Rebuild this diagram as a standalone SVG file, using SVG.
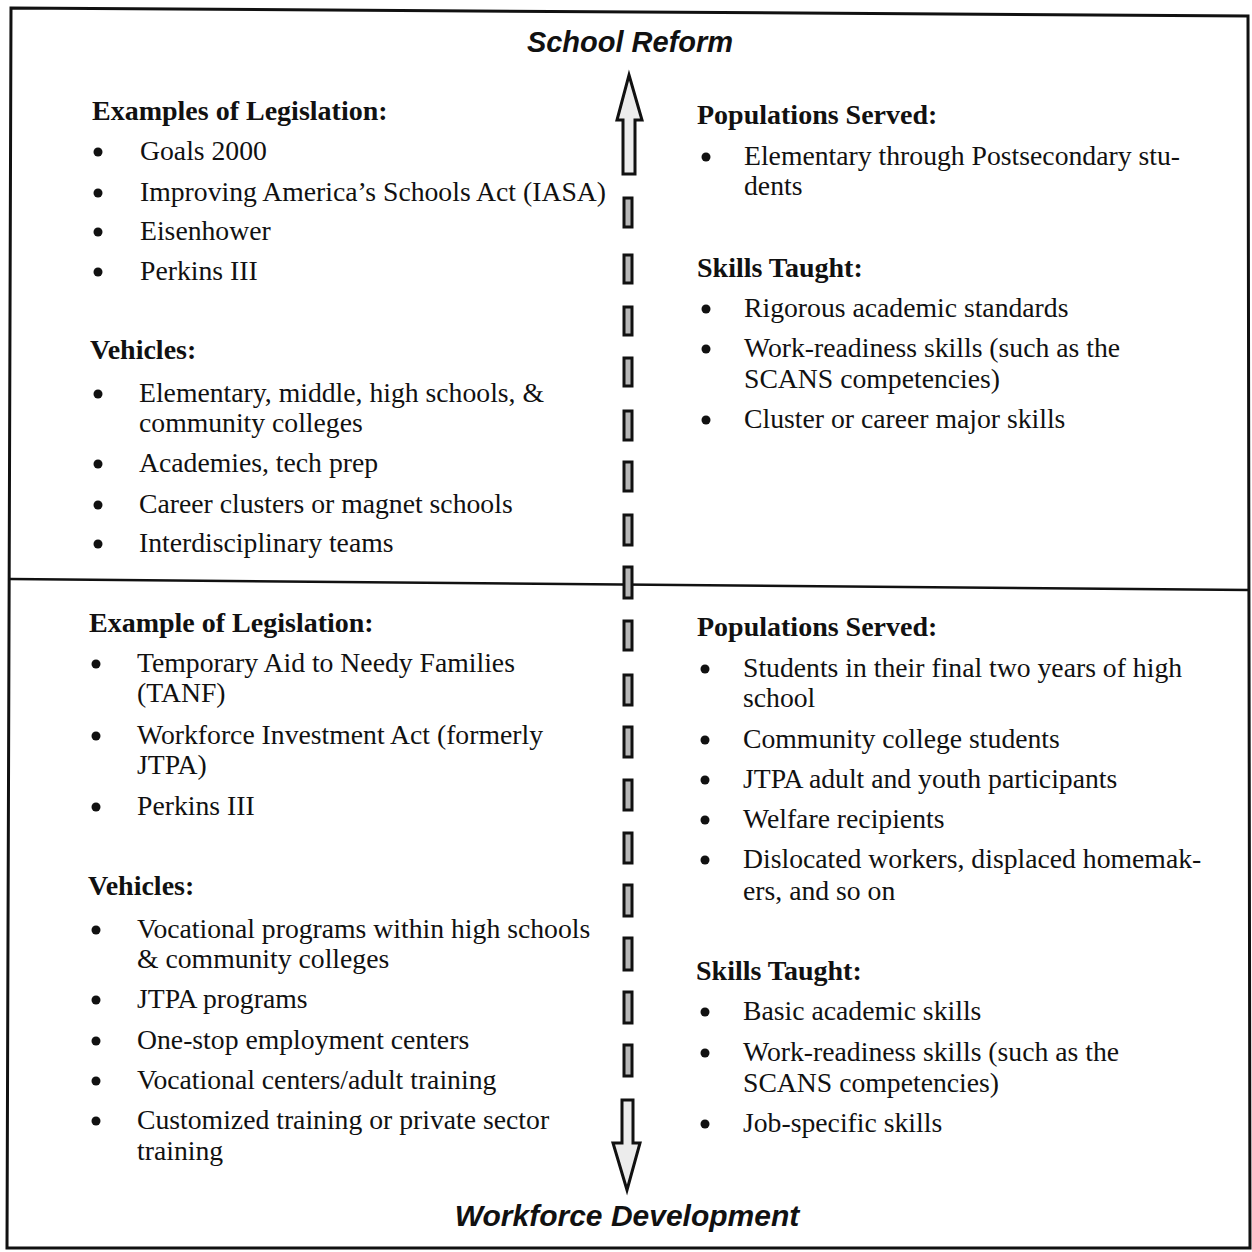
<svg xmlns="http://www.w3.org/2000/svg" width="1252" height="1252" viewBox="0 0 1252 1252">
<style>
.t{font-family:"Liberation Serif","Times New Roman",serif;font-size:27.7px;fill:#111}
.h{font-family:"Liberation Serif","Times New Roman",serif;font-size:28px;font-weight:bold;fill:#111}
.ti{font-family:"Liberation Sans",Arial,sans-serif;font-size:29px;font-weight:bold;font-style:italic;fill:#111}
.b{fill:#111}
.dash{fill:#b8b8b8;stroke:#111;stroke-width:3}
.head{fill:#ececec;stroke:#111;stroke-width:3;stroke-linejoin:miter}
.frame{fill:none;stroke:#111;stroke-width:3}
</style>
<rect x="0" y="0" width="1252" height="1252" fill="#fff"/>
<polygon class="frame" points="11,8 1248,16 1250,1248 7,1248"/>
<line x1="10" y1="579" x2="1250" y2="590" stroke="#111" stroke-width="2.5"/>

<g id="title-top"><text class="ti" x="630" y="52" text-anchor="middle">School Reform</text></g>
<g id="title-bottom"><text class="ti" x="627" y="1226" text-anchor="middle" style="font-size:30px">Workforce Development</text></g>

<g id="connectors">
<polygon class="head" points="629,75 642,120 635,120 635,174 623,174 623,120 617,120"/>
<rect class="dash" x="624" y="198" width="8" height="29"/>
<rect class="dash" x="624" y="255" width="8" height="28"/>
<rect class="dash" x="624" y="307" width="8" height="28"/>
<rect class="dash" x="624" y="358" width="8" height="28"/>
<rect class="dash" x="624" y="411" width="8" height="29"/>
<rect class="dash" x="624" y="462" width="8" height="29"/>
<rect class="dash" x="624" y="515" width="8" height="30"/>
<rect class="dash" x="624" y="567" width="8" height="31"/>
<rect class="dash" x="624" y="621" width="8" height="29"/>
<rect class="dash" x="624" y="675" width="8" height="30"/>
<rect class="dash" x="624" y="727" width="8" height="30"/>
<rect class="dash" x="624" y="780" width="8" height="30"/>
<rect class="dash" x="624" y="833" width="8" height="30"/>
<rect class="dash" x="624" y="885" width="8" height="31"/>
<rect class="dash" x="624" y="938" width="8" height="32"/>
<rect class="dash" x="624" y="992" width="8" height="31"/>
<rect class="dash" x="624" y="1045" width="8" height="31"/>
<polygon class="head" points="622,1100 633,1100 633,1143 640,1143 627,1190 613,1143 622,1143"/>
</g>

<g id="school-left">
<text class="h" x="92" y="120">Examples of Legislation:</text>
<circle class="b" cx="98" cy="152" r="4.5"/><text class="t" x="140" y="160">Goals 2000</text>
<circle class="b" cx="98" cy="193" r="4.5"/><text class="t" x="140" y="201">Improving America’s Schools Act (IASA)</text>
<circle class="b" cx="98" cy="232" r="4.5"/><text class="t" x="140" y="240">Eisenhower</text>
<circle class="b" cx="98" cy="272" r="4.5"/><text class="t" x="140" y="280">Perkins III</text>
<text class="h" x="90" y="359">Vehicles:</text>
<circle class="b" cx="98" cy="394" r="4.5"/><text class="t" x="139" y="402">Elementary, middle, high schools, &amp;</text>
<text class="t" x="139" y="432">community colleges</text>
<circle class="b" cx="98" cy="464" r="4.5"/><text class="t" x="139" y="472">Academies, tech prep</text>
<circle class="b" cx="98" cy="505" r="4.5"/><text class="t" x="139" y="513">Career clusters or magnet schools</text>
<circle class="b" cx="98" cy="544" r="4.5"/><text class="t" x="139" y="552">Interdisciplinary teams</text>
</g>

<g id="school-right">
<text class="h" x="697" y="124">Populations Served:</text>
<circle class="b" cx="706" cy="157" r="4.5"/><text class="t" x="744" y="165">Elementary through Postsecondary stu-</text>
<text class="t" x="744" y="195">dents</text>
<text class="h" x="697" y="277">Skills Taught:</text>
<circle class="b" cx="706" cy="309" r="4.5"/><text class="t" x="744" y="317">Rigorous academic standards</text>
<circle class="b" cx="706" cy="349" r="4.5"/><text class="t" x="744" y="357">Work-readiness skills (such as the</text>
<text class="t" x="744" y="388">SCANS competencies)</text>
<circle class="b" cx="706" cy="420" r="4.5"/><text class="t" x="744" y="428">Cluster or career major skills</text>
</g>

<g id="workforce-left">
<text class="h" x="89" y="632">Example of Legislation:</text>
<circle class="b" cx="96" cy="664" r="4.5"/><text class="t" x="137" y="672">Temporary Aid to Needy Families</text>
<text class="t" x="137" y="702">(TANF)</text>
<circle class="b" cx="96" cy="736" r="4.5"/><text class="t" x="137" y="744">Workforce Investment Act (formerly</text>
<text class="t" x="137" y="774">JTPA)</text>
<circle class="b" cx="96" cy="807" r="4.5"/><text class="t" x="137" y="815">Perkins III</text>
<text class="h" x="88" y="895">Vehicles:</text>
<circle class="b" cx="96" cy="930" r="4.5"/><text class="t" x="137" y="938">Vocational programs within high schools</text>
<text class="t" x="137" y="968">&amp; community colleges</text>
<circle class="b" cx="96" cy="1000" r="4.5"/><text class="t" x="137" y="1008">JTPA programs</text>
<circle class="b" cx="96" cy="1041" r="4.5"/><text class="t" x="137" y="1049">One-stop employment centers</text>
<circle class="b" cx="96" cy="1081" r="4.5"/><text class="t" x="137" y="1089">Vocational centers/adult training</text>
<circle class="b" cx="96" cy="1121" r="4.5"/><text class="t" x="137" y="1129">Customized training or private sector</text>
<text class="t" x="137" y="1160">training</text>
</g>

<g id="workforce-right">
<text class="h" x="697" y="636">Populations Served:</text>
<circle class="b" cx="705" cy="669" r="4.5"/><text class="t" x="743" y="677">Students in their final two years of high</text>
<text class="t" x="743" y="707">school</text>
<circle class="b" cx="705" cy="740" r="4.5"/><text class="t" x="743" y="748">Community college students</text>
<circle class="b" cx="705" cy="780" r="4.5"/><text class="t" x="743" y="788">JTPA adult and youth participants</text>
<circle class="b" cx="705" cy="820" r="4.5"/><text class="t" x="743" y="828">Welfare recipients</text>
<circle class="b" cx="705" cy="860" r="4.5"/><text class="t" x="743" y="868">Dislocated workers, displaced homemak-</text>
<text class="t" x="743" y="900">ers, and so on</text>
<text class="h" x="696" y="980">Skills Taught:</text>
<circle class="b" cx="705" cy="1012" r="4.5"/><text class="t" x="743" y="1020">Basic academic skills</text>
<circle class="b" cx="705" cy="1053" r="4.5"/><text class="t" x="743" y="1061">Work-readiness skills (such as the</text>
<text class="t" x="743" y="1092">SCANS competencies)</text>
<circle class="b" cx="705" cy="1124" r="4.5"/><text class="t" x="743" y="1132">Job-specific skills</text>
</g>
</svg>
